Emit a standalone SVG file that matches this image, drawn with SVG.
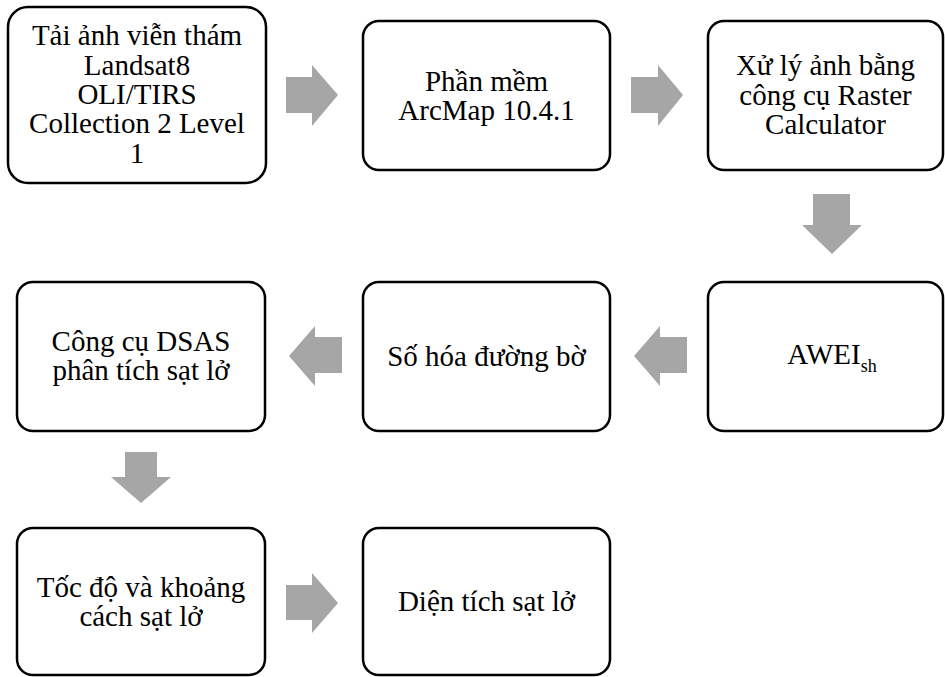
<svg xmlns="http://www.w3.org/2000/svg" width="945" height="677" viewBox="0 0 945 677">
<style>
.box{fill:#fff;stroke:#000;stroke-width:2.5}
.t{font-family:"Liberation Serif","Times New Roman",serif;font-size:29px;fill:#000;text-anchor:middle}
.sub{font-size:18px}
.arr{fill:#a6a6a6}
</style>
<rect width="945" height="677" fill="#fff"/>
<g id="connectors">
<polygon class="arr" points="286,77 312,77 312,65 338,95 312,126 312,113 286,113"/>
<polygon class="arr" points="631,77 658,77 658,65 683,95 658,126 658,113 631,113"/>
<polygon class="arr" points="813,194 850,194 850,225 862,225 832,254 802,225 813,225"/>
<polygon class="arr" points="687,337 660,337 660,326 634,356 660,386 660,373 687,373"/>
<polygon class="arr" points="342,337 315,337 315,326 289,356 315,386 315,373 342,373"/>
<polygon class="arr" points="125,452 157,452 157,477 171,477 141,503 111,477 125,477"/>
<polygon class="arr" points="286,585 312,585 312,573 338,603 312,633 312,620 286,620"/>
</g>
<g id="n1">
<rect class="box" x="8" y="7" width="258" height="176" rx="20"/>
<text class="t" x="137" y="45">Tải ảnh viễn thám</text>
<text class="t" x="137" y="74.5">Landsat8</text>
<text class="t" x="137" y="104">OLI/TIRS</text>
<text class="t" x="137" y="133">Collection 2 Level</text>
<text class="t" x="137" y="162.5">1</text>
</g>
<g id="n2">
<rect class="box" x="363" y="21" width="247" height="149" rx="16"/>
<text class="t" x="486.5" y="90.5">Phần mềm</text>
<text class="t" x="486.5" y="120">ArcMap 10.4.1</text>
</g>
<g id="n3">
<rect class="box" x="708" y="21" width="235" height="149" rx="16"/>
<text class="t" x="825.5" y="75">Xử lý ảnh bằng</text>
<text class="t" x="825.5" y="104.5">công cụ Raster</text>
<text class="t" x="825.5" y="134">Calculator</text>
</g>
<g id="n4">
<rect class="box" x="708" y="282" width="235" height="149" rx="16"/>
<text class="t" x="832" y="364">AWEI<tspan class="sub" dy="8">sh</tspan></text>
</g>
<g id="n5">
<rect class="box" x="363" y="282" width="247" height="149" rx="16"/>
<text class="t" x="486.5" y="365.5">Số hóa đường bờ</text>
</g>
<g id="n6">
<rect class="box" x="17" y="282" width="248" height="149" rx="16"/>
<text class="t" x="141" y="351">Công cụ DSAS</text>
<text class="t" x="141" y="380">phân tích sạt lở</text>
</g>
<g id="n7">
<rect class="box" x="17" y="528" width="248" height="147" rx="16"/>
<text class="t" x="141" y="597">Tốc độ và khoảng</text>
<text class="t" x="141" y="626">cách sạt lở</text>
</g>
<g id="n8">
<rect class="box" x="363" y="528" width="247" height="147" rx="16"/>
<text class="t" x="486.5" y="611">Diện tích sạt lở</text>
</g>
</svg>
